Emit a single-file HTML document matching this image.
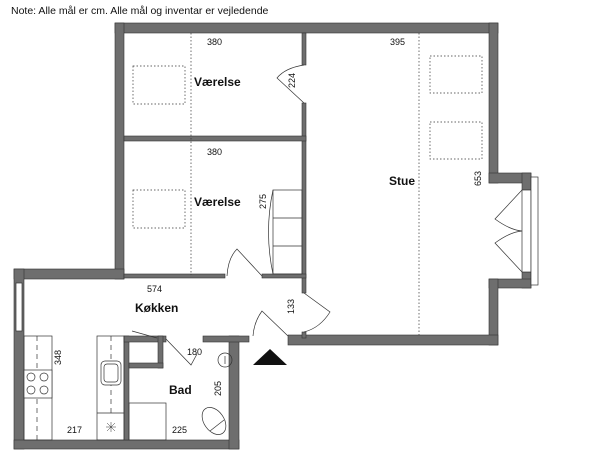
<!DOCTYPE html>
<html><head><meta charset="utf-8"><style>
html,body{margin:0;padding:0;background:#fff;width:600px;height:459px;overflow:hidden}
svg{display:block}
text{font-family:"Liberation Sans",sans-serif;fill:#111}
.n{font-size:9px}
.b{font-size:12px;font-weight:bold}
</style></head><body>
<svg width="600" height="459" viewBox="0 0 600 459">
<text x="11" y="14" style="font-size:10.5px">Note: Alle mål er cm. Alle mål og inventar er vejledende</text>
<g fill="#6e6e6e" stroke="#333" stroke-width="0.6">
<!-- outer walls -->
<rect x="115" y="23" width="383" height="10"/>
<rect x="115" y="23" width="9" height="256"/>
<rect x="489" y="23" width="9" height="160"/>
<rect x="489" y="173" width="42" height="10"/>
<rect x="522" y="173" width="9" height="17"/>
<rect x="522" y="272" width="9" height="16"/>
<rect x="489" y="279" width="42" height="9"/>
<rect x="489" y="279" width="9" height="66"/>
<rect x="288" y="335" width="210" height="10"/>
<rect x="14" y="269" width="110" height="10"/>
<rect x="14" y="269" width="10" height="180"/>
<rect x="14" y="440" width="225" height="9"/>
<rect x="229" y="336" width="10" height="113"/>
<rect x="203" y="336" width="46" height="6"/>
<!-- partitions -->
<rect x="302" y="33" width="4" height="32"/>
<rect x="302" y="103" width="4" height="190"/>
<rect x="302" y="332" width="4" height="6"/>
<rect x="124" y="136" width="182" height="5"/>
<rect x="124" y="274" width="101" height="4"/>
<rect x="262" y="274" width="44" height="4"/>
<rect x="124" y="336" width="5" height="104"/>
<rect x="124" y="336" width="42" height="6"/>
<rect x="158" y="336" width="5" height="32"/>
<rect x="129" y="363" width="34" height="5"/>
</g>
<!-- windows -->
<rect x="16" y="283" width="6" height="48" fill="#fff" stroke="#333" stroke-width="0.7"/>
<rect x="522" y="190" width="9" height="82" fill="#fff" stroke="#333" stroke-width="0.7"/>
<rect x="531" y="177" width="7" height="108" fill="#fff" stroke="#333" stroke-width="0.7"/>
<g fill="none" stroke="#333" stroke-width="0.7">
<!-- dotted -->
<line x1="191" y1="33" x2="191" y2="275" stroke-dasharray="1.5,2"/>
<line x1="419" y1="33" x2="419" y2="335" stroke-dasharray="1.5,2"/>
<rect x="133" y="66" width="52" height="38" stroke-dasharray="1.5,2"/>
<rect x="133" y="190" width="52" height="38" stroke-dasharray="1.5,2"/>
<rect x="430" y="56" width="52" height="37" stroke-dasharray="1.5,2"/>
<rect x="430" y="122" width="52" height="37" stroke-dasharray="1.5,2"/>
<!-- doors -->
<path d="M304 103 L277 78 Q285 68 304 65"/>
<path d="M262 276 L237 249 Q228 258 227 276"/>
<path d="M304 293 L330 312 Q320 328 304 332"/>
<path d="M288 336 L262 311 Q254 322 253 336"/>
<path d="M166 339 L191 365 L197 354"/>
<path d="M157 338 L132 331"/>
<path d="M522 190 L495 219 Q510 230 522 231 Q510 232 495 243 L522 272"/>
<!-- wardrobe -->
<rect x="273" y="190" width="29" height="84"/>
<line x1="273" y1="218" x2="302" y2="218"/>
<line x1="273" y1="246" x2="302" y2="246"/>
<path d="M273 190 Q264 232 273 274"/>
<!-- kitchen -->
<rect x="24" y="336" width="28" height="104"/>
<line x1="37" y1="336" x2="37" y2="440" stroke-dasharray="5,4"/>
<rect x="24" y="370" width="28" height="28" fill="#fff"/>
<circle cx="31" cy="377" r="4"/><circle cx="44" cy="377" r="4"/>
<circle cx="31" cy="390" r="4"/><circle cx="44" cy="390" r="4"/>
<rect x="97" y="336" width="27" height="104"/>
<line x1="111" y1="336" x2="111" y2="413" stroke-dasharray="5,4"/>
<line x1="97" y1="413" x2="124" y2="413"/>
<rect x="101" y="361" width="20" height="24" rx="4" fill="#fff"/>
<rect x="104" y="364" width="14" height="18" rx="3"/>
<path d="M106 427 H116 M111 422 V432 M107 423 L115 431 M115 423 L107 431" stroke-width="0.5"/>
<!-- bath -->
<rect x="129" y="403" width="37" height="37"/>
<circle cx="225" cy="360" r="7"/>
<line x1="225" y1="356" x2="225" y2="364"/>
<ellipse cx="214" cy="421" rx="10" ry="15" transform="rotate(-35 214 421)"/>
<line x1="210" y1="431" x2="224" y2="420"/>
</g>
<polygon points="253,365 270,349 287,365" fill="#111"/>
<text class="n" x="207" y="45">380</text>
<text class="b" x="194" y="86">Værelse</text>
<text class="n" transform="translate(295,88) rotate(-90)">224</text>
<text class="n" x="207" y="155">380</text>
<text class="b" x="194" y="206">Værelse</text>
<text class="n" transform="translate(266,209) rotate(-90)">275</text>
<text class="n" x="390" y="45">395</text>
<text class="b" x="389" y="185">Stue</text>
<text class="n" transform="translate(481,186) rotate(-90)">653</text>
<text class="n" x="147" y="292">574</text>
<text class="b" x="135" y="312">Køkken</text>
<text class="n" transform="translate(294,314) rotate(-90)">133</text>
<text class="n" transform="translate(61,365) rotate(-90)">348</text>
<text class="n" x="187" y="355">180</text>
<text class="b" x="169" y="394">Bad</text>
<text class="n" transform="translate(221,396) rotate(-90)">205</text>
<text class="n" x="67" y="433">217</text>
<text class="n" x="172" y="433">225</text>
</svg>
</body></html>
